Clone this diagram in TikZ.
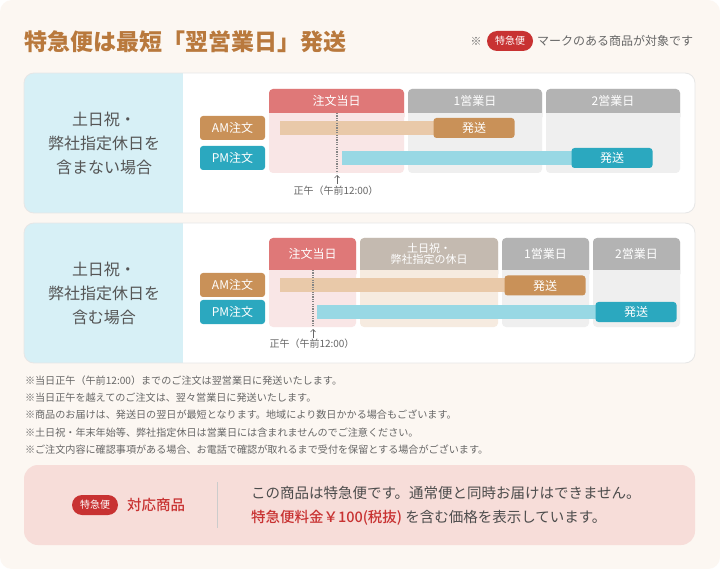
\documentclass[tikz,border=0pt]{standalone}
\usepackage{fontspec}
\setmainfont{Noto Sans CJK JP}
\newfontfamily\medfont{Noto Sans CJK JP Medium}
\usetikzlibrary{arrows.meta}
\definecolor{bgc}{HTML}{FCF7F2}
\definecolor{titlec}{HTML}{B9793D}
\definecolor{redb}{HTML}{C83232}
\definecolor{panelbd}{HTML}{E6E6E6}
\definecolor{leftblue}{HTML}{D7F0F6}
\definecolor{hdred}{HTML}{DF7878}
\definecolor{bdred}{HTML}{F9E6E6}
\definecolor{hdgray}{HTML}{B3B3B3}
\definecolor{bdgray}{HTML}{EFEFEF}
\definecolor{hdhol}{HTML}{C4BAB0}
\definecolor{bdhol}{HTML}{F6EBE0}
\definecolor{amc}{HTML}{C99158}
\definecolor{ambar}{HTML}{E9C9A9}
\definecolor{pmc}{HTML}{2BA8BF}
\definecolor{pmbar}{HTML}{98D8E4}
\definecolor{boxc}{HTML}{F7DDD9}
\definecolor{txt}{HTML}{555555}
\definecolor{notec}{HTML}{666666}
\newcommand{\fsz}[2]{\fontsize{#1}{#2}\selectfont}
\newcommand{\daycol}[7]{%
  \fill[#7, rounded corners=4] (#1,#3) rectangle (#2,#5);
  \fill[#6, rounded corners=4] (#1,#3) rectangle (#2,#4+8);
  \fill[#7] (#1,#4) rectangle (#2,#4+9);
}
\begin{document}
\begin{tikzpicture}[x=1pt,y=-1pt,
  every node/.style={inner sep=0pt, outer sep=0pt},
  titletxt/.style={text=titlec, font=\fsz{23}{26}\bfseries, anchor=west},
  badge/.style={fill=redb, rounded corners=10, minimum width=46, minimum height=20, text=white, font=\fsz{10}{12}},
  notetxt/.style={text=notec, font=\fsz{12}{14}, anchor=west},
  lefttxt/.style={text=txt, font=\fsz{16}{24}, align=center},
  hd/.style={text=white, font=\fsz{12}{14}},
  hdsmall/.style={text=white, font=\fsz{11}{11.5}, align=center},
  rowlbl/.style={text=white, font=\fsz{12}{14}, rounded corners=3, minimum width=65, minimum height=24},
  ship/.style={text=white, font=\fsz{12}{14}, rounded corners=3, minimum width=81, minimum height=20},
  barbox/.style={minimum height=14},
  noonline/.style={color=notec!80, line width=1.1pt, dash pattern=on 1.2pt off 1.2pt},
  noonarrow/.style={color=notec, line width=0.6pt, -{Straight Barb[length=2.5pt,width=5pt]}},
  noontxt/.style={text=notec, font=\fsz{10}{11}},
  smallnote/.style={text=notec, font=\fsz{10.1}{12}, anchor=west},
  boxtxt/.style={text=txt!90!black, font=\fsz{14.5}{16}, anchor=west},
]
\useasboundingbox (0,0) rectangle (720,569);
\fill[white] (0,0) rectangle (720,569);
\fill[bgc, rounded corners=12] (0,0) rectangle (720,569);

% title
\node[titletxt] (title) at (24,42) {特急便は最短「翌営業日」発送};
\node[text=notec, font=\fsz{11}{12}] (kome) at (476,41) {※};
\node[badge] (badge1) at (510,41) {特急便};
\node[notetxt] (note1) at (537,41) {マークのある商品が対象です};

% panel 1
\fill[white, rounded corners=10] (24,73) rectangle (695,213);
\begin{scope}
  \clip[rounded corners=10] (24,73) rectangle (695,213);
  \fill[leftblue] (24,73) rectangle (183,213);
\end{scope}
\draw[panelbd, line width=0.8pt, rounded corners=10] (24,73) rectangle (695,213);
\node[lefttxt] (left1) at (104,143) {土日祝・\\弊社指定休日を\\含まない場合};

\daycol{269}{404}{89}{113}{173}{hdred}{bdred}
\daycol{408}{542}{89}{113}{173}{hdgray}{bdgray}
\daycol{546}{680}{89}{113}{173}{hdgray}{bdgray}
\node[hd] (h11) at (336.5,101) {注文当日};
\node[hd] (h12) at (475,101) {1営業日};
\node[hd] (h13) at (613,101) {2営業日};

\node[rowlbl, fill=amc] (am1) at (232.5,128) {AM注文};
\node[rowlbl, fill=pmc] (pm1) at (232.5,158) {PM注文};

\node[barbox, fill=ambar, minimum width=160, anchor=west] (amb1) at (280,128) {};
\node[ship, fill=amc] (s1) at (474,128) {発送};
\node[barbox, fill=pmbar, minimum width=235, anchor=west] (pmb1) at (342,158) {};
\node[ship, fill=pmc] (s2) at (612,158) {発送};

\coordinate (d1t) at (337,113);
\coordinate (d1b) at (337,173);
\draw[noonline] (d1t) -- (d1b);
\coordinate (a1s) at (337,184);
\coordinate (a1e) at (337,175);
\draw[noonarrow] (a1s) -- (a1e);
\node[noontxt] (noon1) at (336,191) {正午（午前12:00）};

% panel 2
\fill[white, rounded corners=10] (24,223) rectangle (695,363);
\begin{scope}
  \clip[rounded corners=10] (24,223) rectangle (695,363);
  \fill[leftblue] (24,223) rectangle (183,363);
\end{scope}
\draw[panelbd, line width=0.8pt, rounded corners=10] (24,223) rectangle (695,363);
\node[lefttxt] (left2) at (104,293) {土日祝・\\弊社指定休日を\\含む場合};

\daycol{269}{356}{238}{270}{327}{hdred}{bdred}
\daycol{360}{498}{238}{270}{327}{hdhol}{bdhol}
\daycol{502}{589}{238}{270}{327}{hdgray}{bdgray}
\daycol{593}{680}{238}{270}{327}{hdgray}{bdgray}
\node[hd] (h21) at (312.5,254) {注文当日};
\node[hdsmall] (h22) at (429,254) {土日祝・\\弊社指定の休日};
\node[hd] (h23) at (545.5,254) {1営業日};
\node[hd] (h24) at (636.5,254) {2営業日};

\node[rowlbl, fill=amc] (am2) at (232.5,285) {AM注文};
\node[rowlbl, fill=pmc] (pm2) at (232.5,312) {PM注文};

\node[barbox, fill=ambar, minimum width=230, anchor=west] (amb2) at (280,285) {};
\node[ship, fill=amc] (s3) at (545,285.5) {発送};
\node[barbox, fill=pmbar, minimum width=283, anchor=west] (pmb2) at (317,312) {};
\node[ship, fill=pmc] (s4) at (636,312) {発送};

\coordinate (d2t) at (313,270);
\coordinate (d2b) at (313,327);
\draw[noonline] (d2t) -- (d2b);
\coordinate (a2s) at (313,338);
\coordinate (a2e) at (313,329);
\draw[noonarrow] (a2s) -- (a2e);
\node[noontxt] (noon2) at (312,344) {正午（午前12:00）};

% notes
\node[smallnote] (n1) at (25,381) {※当日正午（午前12:00）までのご注文は翌営業日に発送いたします。};
\node[smallnote] (n2) at (25,398) {※当日正午を越えてのご注文は、翌々営業日に発送いたします。};
\node[smallnote] (n3) at (25,415) {※商品のお届けは、発送日の翌日が最短となります。地域により数日かかる場合もございます。};
\node[smallnote] (n4) at (25,433) {※土日祝・年末年始等、弊社指定休日は営業日には含まれませんのでご注意ください。};
\node[smallnote] (n5) at (25,450) {※ご注文内容に確認事項がある場合、お電話で確認が取れるまで受付を保留とする場合がございます。};

% bottom box
\fill[boxc, rounded corners=14] (24,465) rectangle (695,545);
\node[badge] (badge2) at (95,505) {特急便};
\node[text=redb, font=\fsz{14.5}{16}\medfont, anchor=west] (taio) at (127,505) {対応商品};
\coordinate (divt) at (217,482);
\coordinate (divb) at (217,528);
\draw[color=black!20, line width=0.8pt] (divt) -- (divb);
\node[boxtxt] (bt1) at (251,493) {この商品は特急便です。通常便と同時お届けはできません。};
\node[boxtxt] (bt2) at (251,518) {{\color{redb}\medfont 特急便料金￥100(税抜)} を含む価格を表示しています。};
\end{tikzpicture}
\end{document}
